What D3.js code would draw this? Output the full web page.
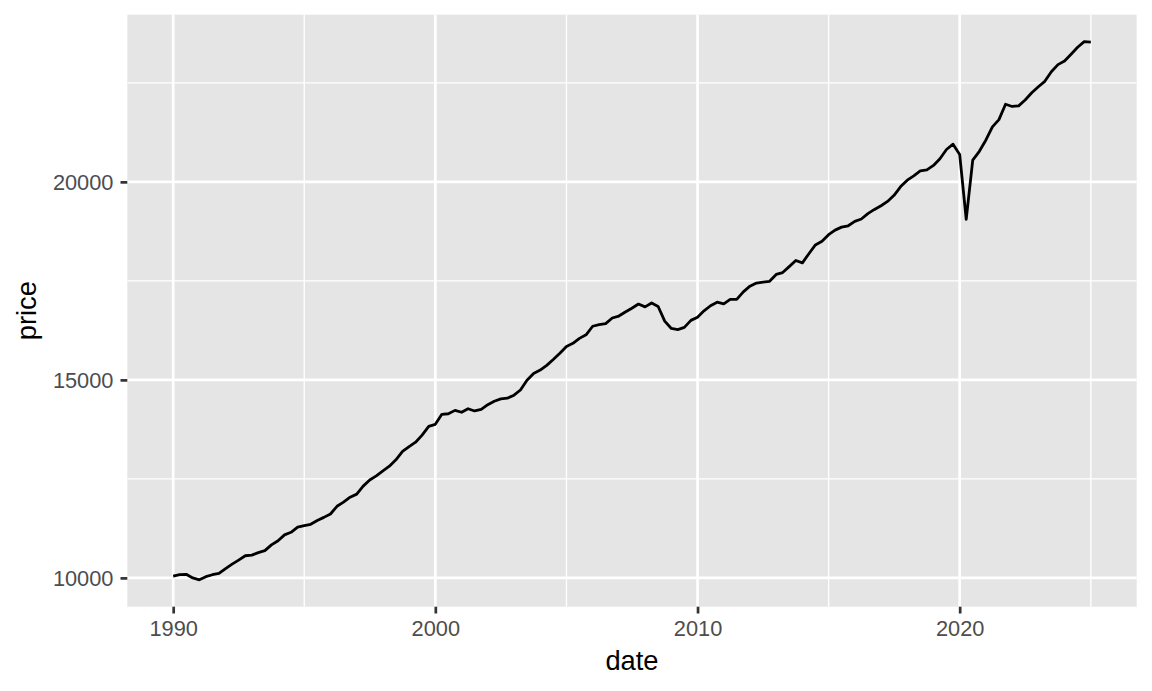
<!DOCTYPE html>
<html>
<head>
<meta charset="utf-8">
<script src="https://cdn.jsdelivr.net/npm/d3@7"></script>
<style>
  html, body { margin: 0; padding: 0; background: #ffffff; }
  svg { display: block; font-family: "Liberation Sans", Arial, Helvetica, sans-serif; }
</style>
</head>
<body>
<svg id="chart" width="1152" height="691"></svg>
<script>
// ---- data (quarterly, starting 1990 Q1) ----
const startYear = 1990;
const price = [
  10047, 10084, 10091, 9999,
  9952, 10030, 10080, 10115,
  10236, 10347, 10450, 10559,
  10576, 10638, 10689, 10834,
  10939, 11087, 11152, 11280,
  11320, 11354, 11450, 11528,
  11614, 11808, 11914, 12038,
  12115, 12317, 12471, 12577,
  12704, 12821, 12983, 13192,
  13316, 13427, 13605, 13828,
  13878, 14131, 14145, 14230,
  14183, 14272, 14215, 14254,
  14373, 14461, 14520, 14538,
  14614, 14744, 14989, 15163,
  15249, 15367, 15513, 15671,
  15845, 15923, 16048, 16137,
  16354, 16396, 16421, 16562,
  16612, 16713, 16810, 16915,
  16843, 16943, 16854, 16485,
  16298, 16269, 16326, 16503,
  16583, 16743, 16872, 16961,
  16921, 17035, 17031, 17223,
  17367, 17445, 17470, 17490,
  17662, 17710, 17860, 18016,
  17954, 18186, 18407, 18500,
  18667, 18782, 18857, 18892,
  19002, 19063, 19198, 19304,
  19398, 19507, 19661, 19882,
  20044, 20150, 20276, 20305,
  20415, 20585, 20818, 20951,
  20693, 19056, 20549, 20772,
  21058, 21389, 21571, 21960,
  21904, 21919, 22067, 22249,
  22403, 22539, 22781, 22961,
  23054, 23224, 23400, 23542,
  23528
];
const xMajorTicks = [1990, 2000, 2010, 2020];
const xMinorTicks = [1995, 2005, 2015, 2025];
const yMajorTicks = [10000, 15000, 20000];
const yMinorTicks = [12500, 17500, 22500];
const xTitle = "date";
const yTitle = "price";

const data = price.map((v, i) => ({
  date: new Date(startYear + Math.floor(i / 4), (i % 4) * 3, 1),
  value: v
}));

// ---- layout ----
const panel = { left: 127.3, right: 1136.7, top: 14.7, bottom: 606.7 };

const svg = d3.select("#chart");

const xExt = d3.extent(data, d => d.date.getTime());
const xPad = (xExt[1] - xExt[0]) * 0.05;
const x = d3.scaleTime()
  .domain([new Date(xExt[0] - xPad), new Date(xExt[1] + xPad)])
  .range([panel.left, panel.right]);

const yExt = d3.extent(data, d => d.value);
const yPad = (yExt[1] - yExt[0]) * 0.05;
const y = d3.scaleLinear()
  .domain([yExt[0] - yPad, yExt[1] + yPad])
  .range([panel.bottom, panel.top]);

const yr = v => new Date(v, 0, 1);

// panel background
svg.append("rect")
  .attr("x", panel.left).attr("y", panel.top)
  .attr("width", panel.right - panel.left)
  .attr("height", panel.bottom - panel.top)
  .attr("fill", "#E5E5E5");

const grid = svg.append("g");
// minor grid
grid.selectAll(".yminor").data(yMinorTicks).join("line")
  .attr("x1", panel.left).attr("x2", panel.right)
  .attr("y1", d => y(d)).attr("y2", d => y(d))
  .attr("stroke", "#ffffff").attr("stroke-width", 1.35);
grid.selectAll(".xminor").data(xMinorTicks).join("line")
  .attr("y1", panel.top).attr("y2", panel.bottom)
  .attr("x1", d => x(yr(d))).attr("x2", d => x(yr(d)))
  .attr("stroke", "#ffffff").attr("stroke-width", 1.35);
// major grid
grid.selectAll(".ymajor").data(yMajorTicks).join("line")
  .attr("x1", panel.left).attr("x2", panel.right)
  .attr("y1", d => y(d)).attr("y2", d => y(d))
  .attr("stroke", "#ffffff").attr("stroke-width", 2.7);
grid.selectAll(".xmajor").data(xMajorTicks).join("line")
  .attr("y1", panel.top).attr("y2", panel.bottom)
  .attr("x1", d => x(yr(d))).attr("x2", d => x(yr(d)))
  .attr("stroke", "#ffffff").attr("stroke-width", 2.7);

// line
const line = d3.line().x(d => x(d.date)).y(d => y(d.value));
svg.append("path")
  .datum(data)
  .attr("d", line)
  .attr("fill", "none")
  .attr("stroke", "#000000")
  .attr("stroke-width", 2.8)
  .attr("stroke-linejoin", "round")
  .attr("stroke-linecap", "butt");

// axes
const xAxis = d3.axisBottom(x)
  .tickValues(xMajorTicks.map(yr))
  .tickFormat(d3.timeFormat("%Y"))
  .tickSize(6.8).tickPadding(7);
const gx = svg.append("g")
  .attr("transform", `translate(0,${panel.bottom})`)
  .call(xAxis);
gx.select(".domain").remove();
gx.selectAll(".tick line").attr("stroke", "#333333").attr("stroke-width", 2.7);
gx.selectAll(".tick text")
  .attr("fill", "#4D4D4D")
  .style("font-size", "21.8px")
  .attr("dy", "0.71em");

const yAxis = d3.axisLeft(y)
  .tickValues(yMajorTicks)
  .tickFormat(d3.format("d"))
  .tickSize(6.8).tickPadding(7);
const gy = svg.append("g")
  .attr("transform", `translate(${panel.left},0)`)
  .call(yAxis);
gy.select(".domain").remove();
gy.selectAll(".tick line").attr("stroke", "#333333").attr("stroke-width", 2.7);
gy.selectAll(".tick text")
  .attr("fill", "#4D4D4D")
  .style("font-size", "21.8px")
  .attr("dy", "0.36em");

// axis titles
svg.append("text")
  .attr("x", (panel.left + panel.right) / 2)
  .attr("y", 670)
  .attr("text-anchor", "middle")
  .attr("fill", "#000000")
  .style("font-size", "27.3px")
  .text(xTitle);

svg.append("text")
  .attr("transform", `translate(36,${(panel.top + panel.bottom) / 2}) rotate(-90)`)
  .attr("text-anchor", "middle")
  .attr("fill", "#000000")
  .style("font-size", "27.3px")
  .text(yTitle);
</script>
</body>
</html>
